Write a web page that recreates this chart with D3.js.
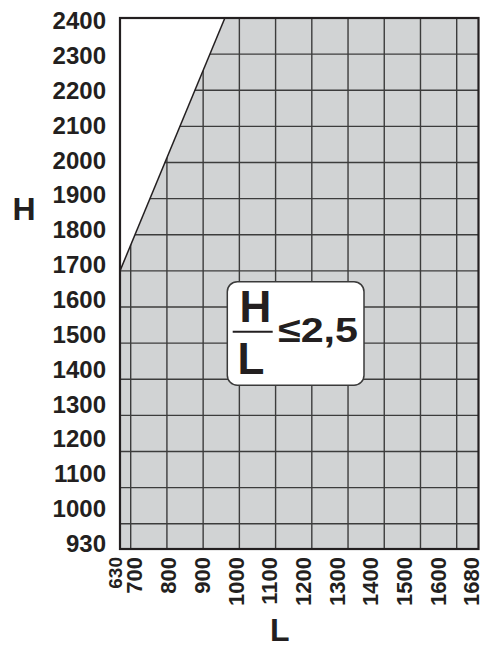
<!DOCTYPE html>
<html>
<head>
<meta charset="utf-8">
<script src="https://cdn.jsdelivr.net/npm/d3@7/dist/d3.min.js"></script>
<style>
  html, body { margin: 0; padding: 0; background: #fff; }
  svg { display: block; }
  text { font-family: "Liberation Sans", Arial, Helvetica, sans-serif; font-weight: bold; fill: #231f20; }
</style>
</head>
<body>
<svg id="chart" width="486" height="648"></svg>
<script>
// ---- data ----
const xTicks = [630, 700, 800, 900, 1000, 1100, 1200, 1300, 1400, 1500, 1600, 1680];
const yTicks = [930, 1000, 1100, 1200, 1300, 1400, 1500, 1600, 1700, 1800, 1900, 2000, 2100, 2200, 2300, 2400];
const limitLine = [[630, 1700], [960, 2400]];   // H / L = 2.5 boundary
const xTitle = "L";
const yTitle = "H";
const ratioText = "≤2,5";

// ---- scales ----
const x = d3.scaleLinear().domain([630, 700, 1600, 1680]).range([120, 130.7, 456.7, 478.5]);
const y = d3.scaleLinear().domain([930, 2400]).range([549, 18]);
// label placement scales (labels are spaced evenly, slightly off the grid)
const xLab = d3.scaleLinear().domain([630, 700, 1600, 1680]).range([115, 134.5, 438, 471]);
const yLab = d3.scaleLinear().domain([930, 1000, 2400]).range([543.5, 508.5, 20.5]);

const svg = d3.select("#chart");
const xMin = d3.min(xTicks), xMax = d3.max(xTicks);
const yMin = d3.min(yTicks), yMax = d3.max(yTicks);

// allowed region polygon
const region = [limitLine[0], limitLine[1], [xMax, yMax], [xMax, yMin], [xMin, yMin]];
const line = d3.line().x(d => x(d[0])).y(d => y(d[1]));

svg.append("defs").append("clipPath").attr("id", "regionClip")
  .append("path").attr("d", line(region) + "Z");

// white plot background
svg.append("rect")
  .attr("x", x(xMin)).attr("y", y(yMax))
  .attr("width", x(xMax) - x(xMin)).attr("height", y(yMin) - y(yMax))
  .attr("fill", "#fff");

// grey region
svg.append("path").attr("d", line(region) + "Z").attr("fill", "#d1d3d4");

// grid (clipped to region)
const grid = svg.append("g").attr("clip-path", "url(#regionClip)")
  .attr("stroke", "#3c3c3c").attr("stroke-width", 1.4);
grid.selectAll("line.v").data(xTicks.slice(1, -1)).join("line")
  .attr("x1", d => x(d)).attr("x2", d => x(d))
  .attr("y1", y(yMax)).attr("y2", y(yMin));
grid.selectAll("line.h").data(yTicks.slice(1, -1)).join("line")
  .attr("y1", d => y(d)).attr("y2", d => y(d))
  .attr("x1", x(xMin)).attr("x2", x(xMax));

// limit line
svg.append("path").attr("d", line(limitLine))
  .attr("fill", "none").attr("stroke", "#231f20").attr("stroke-width", 1.5);

// frame
svg.append("rect")
  .attr("x", x(xMin)).attr("y", y(yMax))
  .attr("width", x(xMax) - x(xMin)).attr("height", y(yMin) - y(yMax))
  .attr("fill", "none").attr("stroke", "#231f20").attr("stroke-width", 2.2);

// y tick labels
svg.append("g").selectAll("text").data(yTicks).join("text")
  .attr("x", 106).attr("y", d => yLab(d)).attr("dy", "0.36em")
  .attr("text-anchor", "end").attr("font-size", 24)
  .text(d => d);

// x tick labels (rotated)
svg.append("g").selectAll("text").data(xTicks).join("text")
  .attr("transform", d => `translate(${xLab(d)},557) rotate(-90)`)
  .attr("dy", "0.36em")
  .attr("text-anchor", "end")
  .attr("font-size", (d, i) => i === 0 ? 19 : 22)
  .text(d => d);

// axis titles
svg.append("text").attr("x", 24).attr("y", 220).attr("text-anchor", "middle")
  .attr("font-size", 32).text(yTitle);
svg.append("text").attr("x", 270).attr("y", 641).attr("text-anchor", "start")
  .attr("font-size", 32).text(xTitle);

// ratio label box
const box = svg.append("g");
box.append("rect").attr("x", 227.3).attr("y", 281.7).attr("width", 136.7).attr("height", 103.5)
  .attr("rx", 10).attr("fill", "#fff").attr("stroke", "#3a3a3a").attr("stroke-width", 1.5);
box.append("text").attr("x", 255.3).attr("y", 321.7).attr("text-anchor", "middle")
  .attr("font-size", 44).text(yTitle);
box.append("line").attr("x1", 232.7).attr("x2", 272.7).attr("y1", 331.7).attr("y2", 331.7)
  .attr("stroke", "#231f20").attr("stroke-width", 2);
box.append("text").attr("x", 237.5).attr("y", 374.3).attr("text-anchor", "start")
  .attr("font-size", 44).text(xTitle);
box.append("text").attr("x", 278).attr("y", 341.7).attr("text-anchor", "start")
  .attr("font-size", 35).attr("textLength", 80).attr("lengthAdjust", "spacingAndGlyphs")
  .text(ratioText);
</script>
</body>
</html>
